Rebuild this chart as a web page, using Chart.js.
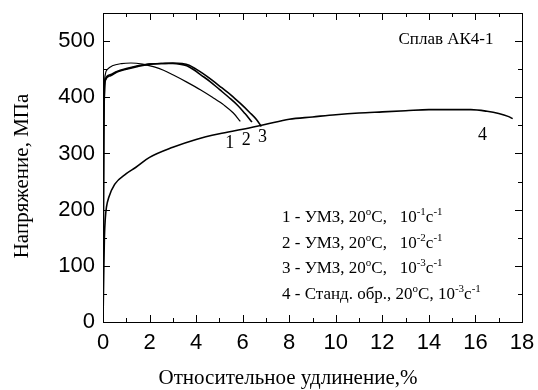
<!DOCTYPE html>
<html>
<head>
<meta charset="utf-8">
<script src="https://cdn.jsdelivr.net/npm/chart.js@4/dist/chart.umd.min.js"></script>
<style>
  html, body { margin: 0; padding: 0; background: #fff; }
  #wrap { width: 538px; height: 390px; }
</style>
</head>
<body>
<div id="wrap"><canvas id="grafico" width="538" height="390"></canvas></div>
<script>
// Данные (удлинение, %; напряжение, МПа)
const strain1 = [0, 0.03, 0.06, 0.1, 0.2, 0.4, 0.8, 1.2, 1.7, 2.2, 2.6, 3.0, 3.6, 4.2, 4.7, 5.2, 5.6, 5.9];
const stress1 = [0, 350, 420, 441, 450, 456, 460, 461, 459, 454, 448, 440, 427, 413, 400, 386, 372, 357];

const strain2 = [0, 0.03, 0.06, 0.1, 0.3, 0.6, 1, 1.5, 2, 2.5, 3, 3.3, 3.6, 3.9, 4.2, 4.6, 5.0, 5.4, 5.8, 6.1, 6.4];
const stress2 = [0, 330, 410, 432, 440, 446, 451, 456, 459, 460, 460, 459, 456, 449, 440, 428, 414, 400, 385, 371, 356];

const strain3 = [0, 0.03, 0.06, 0.1, 0.3, 0.6, 1, 1.5, 2, 2.5, 3, 3.4, 3.7, 4.0, 4.3, 4.7, 5.1, 5.5, 5.9, 6.3, 6.6, 6.8];
const stress3 = [0, 320, 405, 430, 438, 445, 450, 455, 459, 460, 461, 460, 457, 450, 442, 430, 417, 404, 389, 373, 360, 348];

const strain4 = [0, 0.03, 0.06, 0.1, 0.15, 0.25, 0.5, 1, 1.4, 2, 3, 4, 5, 6, 7, 8, 9, 10, 11, 12, 13, 14, 15, 15.8, 16.5, 17, 17.4, 17.6];
const stress4 = [0, 80, 150, 185, 205, 222, 245, 264, 275, 293, 311, 325, 335, 343, 352, 361, 365, 369, 372, 374, 376, 378, 378, 378, 375, 371, 366, 362];

// Подписи
const xTitle = "Относительное удлинение,%";
const yTitle = "Напряжение, МПа";
const alloyLabel = "Сплав АК4-1";
const curveLabels = ["1", "2", "3", "4"];
const labelPos = [[5.45, 318], [6.15, 323], [6.85, 328], [16.3, 333]];
const legendLines = [
  [["1 - УМЗ, 20", 0], ["o", 1], ["C,   10", 0], ["-1", 1], ["с", 0], ["-1", 1]],
  [["2 - УМЗ, 20", 0], ["o", 1], ["C,   10", 0], ["-2", 1], ["с", 0], ["-1", 1]],
  [["3 - УМЗ, 20", 0], ["o", 1], ["C,   10", 0], ["-3", 1], ["с", 0], ["-1", 1]],
  [["4 - Станд. обр., 20", 0], ["o", 1], ["C, 10", 0], ["-3", 1], ["с", 0], ["-1", 1]]
];

function toPoints(xs, ys) {
  return xs.map((x, i) => ({ x: x, y: ys[i] }));
}

function curva(xs, ys, largura) {
  return {
    data: toPoints(xs, ys),
    borderColor: "#000",
    borderWidth: largura,
    pointRadius: 0,
    fill: false,
    cubicInterpolationMode: "monotone"
  };
}

const serif = "'Liberation Serif', 'Times New Roman', serif";

// Рамка, засечки внутрь и текст
const decorPlugin = {
  id: "decor",
  afterDraw(chart) {
    const ctx = chart.ctx;
    const a = chart.chartArea;
    const xs = chart.scales.x;
    const ys = chart.scales.y;
    ctx.save();
    ctx.strokeStyle = "#000";
    ctx.lineWidth = 1;
    ctx.strokeRect(a.left + 0.5, a.top + 0.5, a.right - a.left, a.bottom - a.top);

    ctx.beginPath();
    for (let v = 0; v <= 18; v += 1) {
      const px = Math.round(xs.getPixelForValue(v)) + 0.5;
      const len = v % 2 === 0 ? 7 : 4;
      ctx.moveTo(px, a.bottom);
      ctx.lineTo(px, a.bottom - len);
      ctx.moveTo(px, a.top);
      ctx.lineTo(px, a.top + len);
    }
    for (let v = 0; v <= 550; v += 50) {
      const py = Math.round(ys.getPixelForValue(v)) + 0.5;
      const len = v % 100 === 0 ? 7 : 4;
      ctx.moveTo(a.left, py);
      ctx.lineTo(a.left + len, py);
      ctx.moveTo(a.right, py);
      ctx.lineTo(a.right - len, py);
    }
    ctx.stroke();

    ctx.fillStyle = "#000";
    // Названия осей
    ctx.font = "21px " + serif;
    ctx.textAlign = "center";
    ctx.textBaseline = "middle";
    ctx.fillText(xTitle, 288, 378);
    ctx.save();
    ctx.translate(22, 176);
    ctx.rotate(-Math.PI / 2);
    ctx.fillText(yTitle, 0, 0);
    ctx.restore();

    // Сплав
    ctx.font = "17px " + serif;
    ctx.fillText(alloyLabel, 446, 40);

    // Номера кривых
    ctx.font = "18px " + serif;
    curveLabels.forEach((t, i) => {
      ctx.fillText(t, xs.getPixelForValue(labelPos[i][0]), ys.getPixelForValue(labelPos[i][1]));
    });

    // Пояснения
    ctx.textAlign = "left";
    ctx.textBaseline = "alphabetic";
    legendLines.forEach((line, i) => {
      let x = 282;
      const y = 222 + i * 25.5;
      line.forEach(([t, sup]) => {
        ctx.font = (sup ? "11px " : "17px ") + serif;
        ctx.fillText(t, x, sup ? y - 7 : y);
        x += ctx.measureText(t).width;
      });
    });
    ctx.restore();
  }
};

const ctx = document.querySelector("#grafico").getContext("2d");
const chart = new Chart(ctx, {
  type: "line",
  data: {
    datasets: [
      curva(strain1, stress1, 1.2),
      curva(strain2, stress2, 1.6),
      curva(strain3, stress3, 1.6),
      curva(strain4, stress4, 1.6)
    ]
  },
  options: {
    responsive: false,
    animation: false,
    layout: { padding: { left: 0, right: 16, top: 13, bottom: 0 } },
    plugins: { legend: { display: false }, tooltip: { enabled: false } },
    scales: {
      x: {
        type: "linear",
        min: 0,
        max: 18,
        grid: { display: false, drawTicks: false },
        border: { display: false },
        ticks: {
          stepSize: 2,
          padding: 8,
          color: "#000",
          font: { family: "'Liberation Sans', Arial, sans-serif", size: 22 }
        },
        afterFit(scale) {
          scale.height = 68;
          scale.paddingLeft = 0;
          scale.paddingRight = 0;
        }
      },
      y: {
        type: "linear",
        min: 0,
        max: 550,
        grid: { display: false, drawTicks: false },
        border: { display: false },
        ticks: {
          stepSize: 100,
          includeBounds: false,
          padding: 8,
          color: "#000",
          font: { family: "'Liberation Sans', Arial, sans-serif", size: 22 }
        },
        afterFit(scale) {
          scale.width = 103;
          scale.paddingTop = 0;
          scale.paddingBottom = 0;
        }
      }
    }
  },
  plugins: [decorPlugin]
});
</script>
</body>
</html>
